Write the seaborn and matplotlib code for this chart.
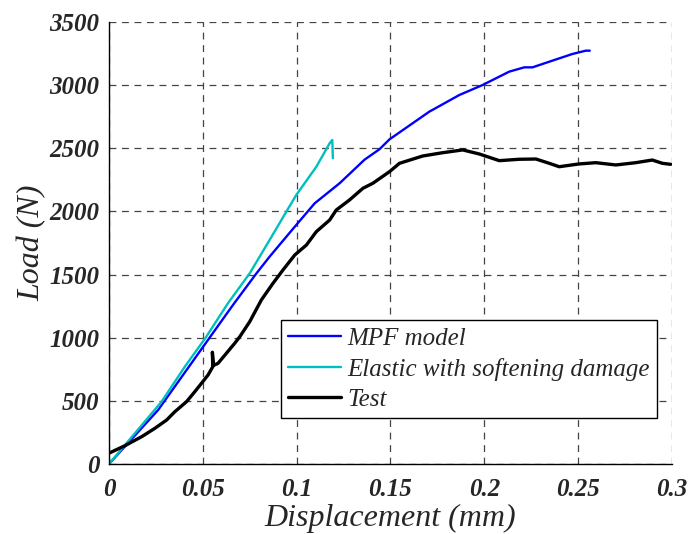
import matplotlib
matplotlib.use("Agg")
import matplotlib.pyplot as plt
import seaborn as sns
import numpy as np

# ---- data ----
mpf_x = [0.0, 0.0262, 0.0502, 0.0661, 0.0786, 0.0856, 0.0990, 0.1096, 0.1229,
         0.1362, 0.1441, 0.1495, 0.1707, 0.1867, 0.1991, 0.2133, 0.2213, 0.2257,
         0.2363, 0.2470, 0.2541, 0.2562]
mpf_y = [0, 428, 929, 1260, 1510, 1642, 1879, 2064, 2223,
         2410, 2492, 2571, 2790, 2922, 3001, 3107, 3141, 3141,
         3194, 3247, 3273, 3273]

elastic_x = [0.0, 0.0280, 0.0404, 0.0515, 0.0634, 0.0750, 0.0856, 0.0945, 0.0998,
             0.1105, 0.1176, 0.1190, 0.1193]
elastic_y = [0, 493, 770, 1000, 1273, 1510, 1774, 1998, 2130,
             2354, 2540, 2566, 2421]

test_x = [0.0005, 0.0085, 0.0174, 0.0245, 0.0307, 0.0351, 0.0413, 0.0457, 0.0493,
          0.0528, 0.0553, 0.0551, 0.0556, 0.0581, 0.0670, 0.0697, 0.0750, 0.0812,
          0.0874, 0.0927, 0.0990, 0.1052, 0.1105, 0.1176, 0.1211, 0.1282, 0.1353,
          0.1406, 0.1495, 0.1548, 0.1672, 0.1778, 0.1885, 0.1973, 0.2080, 0.2186,
          0.2275, 0.2346, 0.2399, 0.2505, 0.2594, 0.2701, 0.2807, 0.2895, 0.2949,
          0.2993]
test_y = [89, 145, 216, 283, 348, 414, 493, 572, 639,
          705, 770, 885, 780, 797, 956, 1008, 1127, 1299,
          1431, 1536, 1655, 1734, 1840, 1932, 2011, 2091, 2183,
          2223, 2315, 2381, 2439, 2465, 2487, 2455, 2402, 2413,
          2415, 2381, 2354, 2376, 2386, 2368, 2386, 2407, 2381,
          2373]

labels = ["MPF model", "Elastic with softening damage", "Test"]
x_ticks = [0, 0.05, 0.1, 0.15, 0.2, 0.25, 0.3]
x_tick_labels = ["0", "0.05", "0.1", "0.15", "0.2", "0.25", "0.3"]
y_ticks = [0, 500, 1000, 1500, 2000, 2500, 3000, 3500]

sns.set_style("white")
plt.rcParams["font.family"] = ["Liberation Serif", "DejaVu Serif"]

fig = plt.figure(figsize=(6.88, 5.34), dpi=100)
ax = fig.add_axes([0.1584, 0.1311, 0.8183, 0.8277])

sns.lineplot(x=mpf_x, y=mpf_y, ax=ax, color="#0000FF", lw=1.7, sort=False,
             estimator=None, label=labels[0])
sns.lineplot(x=elastic_x, y=elastic_y, ax=ax, color="#00BFBF", lw=1.7, sort=False,
             estimator=None, label=labels[1])
sns.lineplot(x=test_x, y=test_y, ax=ax, color="black", lw=2.4, sort=False,
             estimator=None, label=labels[2])

ax.set_xlim(0, 0.3)
ax.set_ylim(0, 3500)
ax.set_xticks(x_ticks)
ax.set_xticklabels(x_tick_labels)
ax.set_yticks(y_ticks)

for lab in ax.get_xticklabels() + ax.get_yticklabels():
    lab.set_fontstyle("italic")
    lab.set_fontweight("bold")
    lab.set_fontsize(18)

ax.tick_params(axis="both", direction="in", length=4, width=1, color="black")
ax.tick_params(axis="x", pad=10)
ax.tick_params(axis="y", pad=7)

ax.grid(True, color="#444444", linestyle=(0, (5.5, 4.5)), linewidth=0.9)
ax.set_axisbelow(True)

for s in ["top", "right"]:
    ax.spines[s].set_visible(False)
for s in ["left", "bottom"]:
    ax.spines[s].set_color("black")
    ax.spines[s].set_linewidth(1.0)

ax.set_xlabel("Displacement (mm)", fontsize=23, fontstyle="italic", labelpad=2)
ax.set_ylabel("Load (N)", fontsize=23, fontstyle="italic", labelpad=2)

leg = ax.legend(loc="lower left", bbox_to_anchor=(0.305, 0.104), borderaxespad=0,
                frameon=True, fancybox=False, edgecolor="black",
                prop={"family": "Liberation Serif", "style": "italic", "size": 18},
                handlelength=2.1, handletextpad=0.25, labelspacing=0.3,
                borderpad=0.3)
leg.get_frame().set_linewidth(1.0)
leg.get_frame().set_alpha(1)

fig.savefig("out.png", dpi=100)
